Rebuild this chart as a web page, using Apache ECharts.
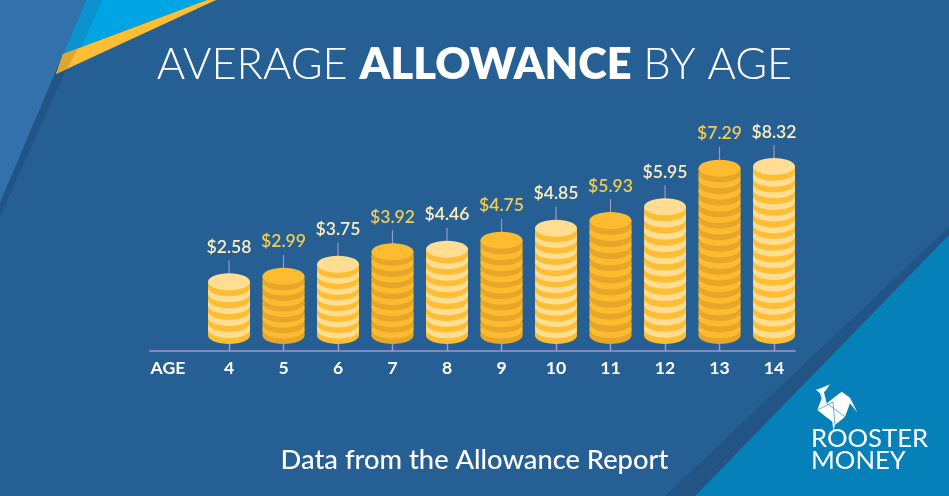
<!DOCTYPE html>
<html><head><meta charset="utf-8">
<style>html,body{margin:0;padding:0;background:#265F94}#c{width:949px;height:496px}</style>
<script src="https://cdn.jsdelivr.net/npm/echarts@6/dist/echarts.min.js"></script>
</head><body><div id="c"></div>
<script>
const ages = [4,5,6,7,8,9,10,11,12,13,14];
const allowance = ['$2.58','$2.99','$3.75','$3.92','$4.46','$4.75','$4.85','$5.93','$5.95','$7.29','$8.32'];
// height of each coin stack as drawn, in coin-edge layers
const stackLayers = [11.8,12.7,14.7,16.8,17.2,18.7,20.7,22.0,24.3,30.7,31.0];
const axisWord = 'AGE';
const titleLight = 'AVERAGE ';
const titleBold = 'ALLOWANCE';
const titleEnd = ' BY AGE';
const footer = 'Data from the Allowance Report';
const brand = ['ROOSTER','MONEY'];

const FONT = 'Lato, "Noto Sans", sans-serif';
const poly = (points, fill, z) => ({type:'polygon', silent:true, z:z||0, shape:{points}, style:{fill}});
const fold = (a,b) => ({type:'line', silent:true, z:3, shape:{x1:a[0],y1:a[1],x2:b[0],y2:b[1]}, style:{stroke:'#0680B9',lineWidth:0.6}});

function renderStack(params, api){
  const i = params.dataIndex;
  const age = api.value(0), layers = api.value(1);
  const base = api.coord([age,0]), top = api.coord([age,layers]);
  const rx = api.size([1,0])[0]*0.385, ry = 8.5;
  const cx = base[0];
  const isLight = i % 2 === 0;
  const main = isLight ? '#FFDD93' : '#FDBC2F';
  const alt  = isLight ? '#FDBE35' : '#E5A62A';
  const bodyH = (base[1]-top[1]) - 2*ry;
  let n = Math.round(bodyH/6); if(n%2===0) n+=1;
  const h = bodyH/n;
  const children = [];
  children.push({type:'line', shape:{x1:cx,y1:top[1]-13,x2:cx,y2:top[1]+4}, style:{stroke:'#9C94C6',lineWidth:1.2}});
  for(let k=n;k>=1;k--){
    const cy = top[1]+ry+k*h;
    const fill = k%2===1 ? alt : main;
    children.push({type:'ellipse', shape:{cx,cy,rx,ry}, style:{fill}});
    children.push({type:'rect', shape:{x:cx-rx,y:cy-h,width:2*rx,height:h}, style:{fill}});
  }
  children.push({type:'ellipse', shape:{cx,cy:top[1]+ry,rx,ry}, style:{fill:main}});
  children.push({type:'text', style:{text:allowance[i], x:cx, y:top[1]-26, fill:isLight?'#FFEFC0':'#F2CB52',
    font:'600 17.6px '+FONT, textAlign:'center', textVerticalAlign:'middle'}});
  return {type:'group', children};
}

const chart = echarts.init(document.getElementById('c'), null, {renderer:'canvas'});
const AGE_POS = 2.88;
chart.setOption({
  animation:false,
  backgroundColor:'#265F94',
  title:[
    {text:`{a|${titleLight}}{b|${titleBold}}{a|${titleEnd}}`, left:'center', top:34,
     textStyle:{rich:{
       a:{fontFamily:FONT,fontWeight:300,fontSize:43.4,color:'#fff',lineHeight:52},
       b:{fontFamily:FONT,fontWeight:800,fontSize:43.4,color:'#fff',lineHeight:52}}}},
    {text:footer, left:'center', top:439, textStyle:{fontFamily:FONT,fontWeight:500,fontSize:27.3,color:'#fff',lineHeight:32}}
  ],
  grid:{left:150,width:645,top:20,height:324},
  xAxis:{type:'value',min:2.55,max:14.385,offset:7,splitLine:{show:false},
    axisLine:{show:true,onZero:false,lineStyle:{color:'#A695CB',width:1.6}},
    axisTick:{show:true,inside:true,length:7,customValues:ages,lineStyle:{color:'#A695CB',width:1.4}},
    axisLabel:{show:true,customValues:[AGE_POS].concat(ages),margin:8,color:'#fff',fontFamily:FONT,fontWeight:700,fontSize:17.6,
      formatter:v=>v===AGE_POS?axisWord:String(v)}},
  yAxis:{type:'value',min:0,max:54,show:false},
  series:[{type:'custom',clip:false,renderItem:renderStack,encode:{x:0,y:1},
    data:ages.map((a,i)=>[a,stackLayers[i]])}],
  graphic:[
    poly([[86,0],[0,203],[0,0]],'#3271AC'),
    poly([[86,0],[97,0],[0,217],[0,203]],'#215587'),
    poly([[102,0],[207,0],[80,47.6]],'#00A6E3'),
    poly([[86,0],[102,0],[80,47.6],[63,54]],'#0C93CE'),
    poly([[207,0],[216,0],[56,74],[63,54]],'#FDBE33'),
    poly([[63,54],[78,48.4],[67,69],[56,74]],'#DFA62F'),
    poly([[949,227],[949,496],[665,496]],'#225486'),
    poly([[949,235],[949,496],[695,496]],'#0680B9'),
    poly([[816,389.7],[820.7,388.3],[830,384.3],[826,390],[824,392.3],[826.7,403.3],[841.7,391.7],[850,397.7],[857.3,412.3],[850,403.3],[845,416.7],[835,425],[833.3,431],[832.3,421.7],[817.3,410],[821.7,398.3],[820,393.3]],'#fff',2),
    fold([817.3,410],[833,402]),fold([833,402],[835,425]),fold([826.7,403.3],[845,416.7]),
    {type:'text',silent:true,z:3,style:{text:brand[0],x:811,y:439,fill:'#fff',font:'400 25.7px '+FONT,textVerticalAlign:'middle'}},
    {type:'text',silent:true,z:3,style:{text:brand[1],x:811,y:460.5,fill:'#fff',font:'400 25.7px '+FONT,textVerticalAlign:'middle'}}
  ]
});
</script></body></html>
